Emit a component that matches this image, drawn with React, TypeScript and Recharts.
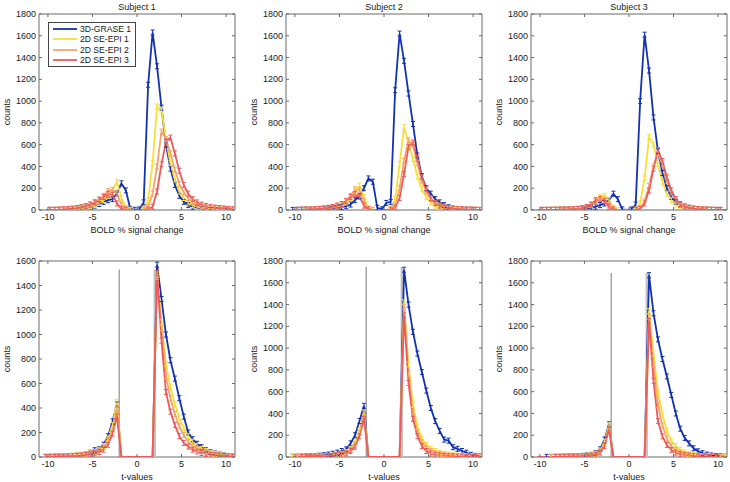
import { LineChart, Line, XAxis, YAxis, ReferenceLine, ReferenceArea, Legend } from "recharts"

// bin centres shared by every histogram
const X = [-10.25, -9.75, -9.25, -8.75, -8.25, -7.75, -7.25, -6.75, -6.25, -5.75, -5.25, -4.75, -4.25, -3.75, -3.25, -2.75, -2.25, -1.75, -1.25, -0.75, -0.25, 0.25, 0.75, 1.25, 1.75, 2.25, 2.75, 3.25, 3.75, 4.25, 4.75, 5.25, 5.75, 6.25, 6.75, 7.25, 7.75, 8.25, 8.75, 9.25, 9.75, 10.25, 10.75]

const SERIES = [
  { key: "g", name: "3D-GRASE 1", color: "#1232B2" },
  { key: "e1", name: "2D SE-EPI 1", color: "#F7E03A" },
  { key: "e2", name: "2D SE-EPI 2", color: "#F5A46C" },
  { key: "e3", name: "2D SE-EPI 3", color: "#EC5A5C" },
]

const X_TICKS = [-10, -5, 0, 5, 10]
const Y_TICKS_1800 = [0, 200, 400, 600, 800, 1000, 1200, 1400, 1600, 1800]
const Y_TICKS_1600 = [0, 200, 400, 600, 800, 1000, 1200, 1400, 1600]

// BOLD % signal change histograms
const bold1Grase = [0, 1, 1, 2, 3, 5, 7, 10, 15, 22, 30, 40, 55, 75, 90, 100, 150, 245, 180, 10, 2, 5, 70, 1150, 1630, 1320, 940, 600, 380, 230, 130, 75, 45, 30, 20, 12, 8, 5, 3, 2, 1, 1, 0]
const bold1Epi1 = [0, 1, 1, 2, 3, 5, 7, 10, 15, 22, 32, 45, 65, 90, 130, 180, 260, 110, 20, 3, 0, 0, 10, 90, 430, 950, 920, 650, 430, 280, 170, 110, 70, 45, 30, 20, 13, 9, 6, 4, 3, 2, 1]
const bold1Epi2 = [0, 1, 2, 3, 5, 8, 12, 18, 25, 35, 50, 70, 95, 130, 175, 185, 150, 50, 10, 2, 0, 0, 5, 30, 150, 400, 720, 650, 520, 370, 240, 160, 110, 75, 55, 40, 30, 22, 17, 13, 10, 8, 5]
const bold1Epi3 = [0, 1, 2, 3, 5, 8, 12, 18, 25, 35, 50, 70, 95, 120, 150, 140, 60, 10, 2, 0, 0, 0, 0, 5, 30, 170, 420, 630, 665, 520, 360, 230, 150, 100, 70, 50, 38, 28, 22, 18, 14, 10, 6]

const bold2Grase = [1, 2, 3, 4, 5, 6, 8, 10, 12, 15, 20, 25, 35, 50, 90, 130, 200, 290, 260, 20, 5, 65, 75, 1100, 1620, 1370, 1070, 790, 500, 310, 200, 150, 100, 70, 45, 25, 12, 8, 5, 3, 2, 1, 0]
const bold2Epi1 = [0, 1, 2, 3, 4, 5, 8, 12, 17, 25, 35, 50, 70, 110, 170, 225, 120, 20, 3, 0, 0, 0, 10, 100, 420, 760, 620, 470, 310, 190, 120, 70, 40, 25, 15, 10, 7, 5, 3, 2, 1, 1, 0]
const bold2Epi2 = [0, 1, 2, 3, 5, 7, 10, 14, 20, 28, 40, 55, 85, 130, 190, 180, 80, 10, 2, 0, 0, 0, 5, 40, 200, 450, 640, 600, 430, 270, 170, 100, 60, 40, 25, 17, 12, 9, 6, 4, 3, 2, 1]
const bold2Epi3 = [0, 1, 2, 3, 5, 7, 10, 14, 20, 28, 40, 55, 80, 120, 145, 120, 40, 5, 0, 0, 0, 0, 3, 20, 110, 330, 580, 620, 470, 300, 190, 110, 65, 40, 25, 17, 12, 8, 6, 4, 3, 2, 1]

const bold3Grase = [0, 1, 1, 2, 2, 3, 4, 5, 7, 10, 12, 15, 20, 30, 45, 60, 90, 150, 100, 5, 0, 5, 50, 1000, 1610, 1280, 850, 540, 340, 200, 120, 75, 45, 30, 20, 12, 8, 5, 3, 2, 1, 1, 0]
const bold3Epi1 = [0, 1, 1, 2, 2, 3, 4, 5, 7, 10, 15, 25, 45, 80, 120, 130, 90, 20, 2, 0, 0, 0, 5, 60, 290, 670, 600, 420, 260, 150, 90, 55, 35, 22, 14, 9, 6, 4, 3, 2, 1, 0, 0]
const bold3Epi2 = [0, 1, 1, 2, 2, 3, 4, 5, 7, 10, 15, 25, 45, 80, 105, 95, 45, 8, 0, 0, 0, 0, 2, 15, 80, 220, 400, 520, 420, 270, 160, 90, 50, 30, 18, 11, 7, 5, 3, 2, 1, 1, 0]
const bold3Epi3 = [0, 1, 1, 1, 2, 3, 4, 5, 7, 10, 16, 28, 50, 90, 100, 80, 30, 5, 0, 0, 0, 0, 2, 10, 60, 180, 380, 550, 450, 300, 180, 100, 55, 32, 20, 12, 8, 5, 3, 2, 1, 1, 0]

// t-value histograms (thresholded at |t| = 2)
const t1Grase = [1, 1, 2, 3, 4, 5, 7, 10, 14, 22, 35, 55, 65, 100, 170, 290, 430, 0, 0, 0, 0, 0, 0, 0, 0, 1570, 1290, 1000, 790, 640, 480, 330, 200, 145, 108, 80, 55, 40, 28, 20, 14, 8, 4]
const t1Epi1 = [1, 2, 3, 4, 6, 8, 10, 13, 17, 22, 30, 40, 60, 90, 150, 260, 450, 0, 0, 0, 0, 0, 0, 0, 0, 1490, 1100, 760, 570, 430, 320, 235, 170, 125, 90, 65, 48, 35, 25, 18, 12, 8, 4]
const t1Epi2 = [1, 2, 3, 4, 5, 7, 9, 12, 16, 22, 30, 40, 55, 80, 130, 220, 390, 0, 0, 0, 0, 0, 0, 0, 0, 1470, 1050, 660, 480, 350, 250, 180, 125, 90, 65, 48, 35, 26, 19, 14, 10, 7, 4]
const t1Epi3 = [1, 1, 2, 3, 4, 5, 7, 9, 12, 16, 22, 30, 40, 60, 100, 190, 330, 0, 0, 0, 0, 0, 0, 0, 0, 1500, 950, 530, 370, 260, 170, 115, 85, 60, 45, 33, 25, 18, 13, 10, 7, 5, 3]

const t2Grase = [2, 3, 4, 5, 7, 9, 12, 16, 22, 30, 40, 55, 70, 125, 200, 330, 470, 0, 0, 0, 0, 0, 0, 0, 0, 1720, 1400, 1150, 950, 780, 610, 450, 330, 240, 160, 150, 90, 75, 55, 40, 20, 10, 5]
const t2Epi1 = [1, 1, 2, 2, 3, 4, 5, 7, 10, 14, 20, 30, 45, 75, 130, 240, 410, 0, 0, 0, 0, 0, 0, 0, 0, 1420, 850, 480, 280, 170, 110, 75, 55, 40, 30, 22, 16, 12, 9, 6, 4, 3, 2]
const t2Epi2 = [0, 1, 1, 2, 3, 4, 5, 6, 9, 12, 18, 26, 40, 65, 115, 220, 400, 0, 0, 0, 0, 0, 0, 0, 0, 1380, 760, 410, 230, 135, 85, 55, 38, 27, 20, 14, 10, 7, 5, 4, 3, 2, 1]
const t2Epi3 = [0, 0, 1, 1, 2, 3, 4, 5, 7, 10, 14, 20, 32, 55, 95, 190, 350, 0, 0, 0, 0, 0, 0, 0, 0, 1300, 680, 350, 190, 100, 55, 32, 20, 14, 10, 7, 5, 4, 3, 2, 1, 1, 0]

const t3Grase = [0, 0, 1, 1, 2, 2, 3, 4, 5, 7, 10, 14, 20, 35, 70, 160, 300, 0, 0, 0, 0, 0, 0, 0, 0, 1670, 1320, 1080, 900, 740, 570, 400, 260, 175, 125, 80, 52, 35, 22, 14, 9, 6, 3]
const t3Epi1 = [0, 0, 0, 1, 1, 2, 2, 3, 4, 6, 8, 12, 18, 30, 60, 140, 290, 0, 0, 0, 0, 0, 0, 0, 0, 1340, 950, 600, 390, 240, 150, 100, 65, 42, 28, 18, 12, 8, 5, 3, 2, 1, 1]
const t3Epi2 = [0, 0, 0, 1, 1, 1, 2, 3, 4, 5, 7, 10, 15, 25, 50, 120, 270, 0, 0, 0, 0, 0, 0, 0, 0, 1290, 850, 480, 290, 170, 100, 62, 40, 26, 17, 11, 8, 5, 3, 2, 1, 1, 0]
const t3Epi3 = [0, 0, 0, 0, 1, 1, 2, 2, 3, 4, 6, 8, 12, 20, 40, 100, 250, 0, 0, 0, 0, 0, 0, 0, 0, 1250, 700, 330, 190, 110, 65, 40, 26, 17, 11, 7, 5, 3, 2, 1, 1, 0, 0]

// threshold markers in the t-value plots
const T_THRESH = [-2, 2]
const T_MARK_TOP = [1530, 1745, 1690]

const FONT = '"Liberation Sans", Arial, Helvetica, sans-serif'
const INK = "#1a1a1a"
const BOX = "#6a6a6a"
const FS = 9
const PW = 196
const PH = 196
const YW = 40
const XH = 30
const MT = 4
const MR = 4
const COL_LEFT = [39, 286, 531]
const ROW_TOP = [14, 261]

const PANELS = [
  { col: 0, row: 0, title: "Subject 1", xLabel: "BOLD % signal change", yMax: 1800, yTicks: Y_TICKS_1800, vals: [bold1Grase, bold1Epi1, bold1Epi2, bold1Epi3], legend: true },
  { col: 1, row: 0, title: "Subject 2", xLabel: "BOLD % signal change", yMax: 1800, yTicks: Y_TICKS_1800, vals: [bold2Grase, bold2Epi1, bold2Epi2, bold2Epi3] },
  { col: 2, row: 0, title: "Subject 3", xLabel: "BOLD % signal change", yMax: 1800, yTicks: Y_TICKS_1800, vals: [bold3Grase, bold3Epi1, bold3Epi2, bold3Epi3] },
  { col: 0, row: 1, xLabel: "t-values", yMax: 1600, yTicks: Y_TICKS_1600, vals: [t1Grase, t1Epi1, t1Epi2, t1Epi3], mark: T_MARK_TOP[0] },
  { col: 1, row: 1, xLabel: "t-values", yMax: 1800, yTicks: Y_TICKS_1800, vals: [t2Grase, t2Epi1, t2Epi2, t2Epi3], mark: T_MARK_TOP[1] },
  { col: 2, row: 1, xLabel: "t-values", yMax: 1800, yTicks: Y_TICKS_1800, vals: [t3Grase, t3Epi1, t3Epi2, t3Epi3], mark: T_MARK_TOP[2] },
]

// error-bar style marker (caps + stem)
function ErrDot(props: any) {
  const { cx, cy, stroke, value } = props
  if (cx == null || cy == null || !value) return <g />
  const h = 2.5
  const w = 2
  return (
    <path
      d={`M${cx - w},${cy - h}h${2 * w}M${cx},${cy - h}v${2 * h}M${cx - w},${cy + h}h${2 * w}`}
      stroke={stroke}
      strokeWidth={1}
      fill="none"
    />
  )
}

// matlab-ish ticks: labels outside, marks pointing in, mirrored on the opposite side
function XTick({ x, y, payload }: any) {
  return (
    <g>
      <line x1={x} x2={x} y1={y} y2={y - 3} stroke={BOX} />
      <line x1={x} x2={x} y1={y - PH} y2={y - PH + 3} stroke={BOX} />
      <text x={x} y={y + 7} dy="0.35em" textAnchor="middle" fontSize={FS} fill={INK} fontFamily={FONT}>
        {payload.value}
      </text>
    </g>
  )
}

function YTick({ x, y, payload }: any) {
  return (
    <g>
      <line x1={x} x2={x + 3} y1={y} y2={y} stroke={BOX} />
      <line x1={x + PW - 3} x2={x + PW} y1={y} y2={y} stroke={BOX} />
      <text x={x - 3} y={y} dy="0.35em" textAnchor="end" fontSize={FS} fill={INK} fontFamily={FONT}>
        {payload.value}
      </text>
    </g>
  )
}

const renderLegend = () => (
  <div
    style={{
      border: "1px solid #444",
      background: "#fff",
      padding: "1px 4px",
      fontFamily: FONT,
      fontSize: 8.6,
      lineHeight: "10.3px",
      color: INK,
      whiteSpace: "nowrap",
    }}
  >
    {SERIES.map((s) => (
      <div key={s.key} style={{ display: "flex", alignItems: "center" }}>
        <svg width={25} height={10}>
          <line x1={0} x2={24} y1={5} y2={5} stroke={s.color} strokeWidth={1.8} />
        </svg>
        <span style={{ marginLeft: 2 }}>{s.name}</span>
      </div>
    ))}
  </div>
)

function Panel(p: any) {
  const plotLeft = COL_LEFT[p.col]
  const plotTop = ROW_TOP[p.row]
  const chartLeft = plotLeft - YW
  const chartTop = plotTop - MT
  const rows = X.map((x, i) => {
    const r: any = { x }
    SERIES.forEach((s, j) => {
      r[s.key] = p.vals[j][i]
    })
    return r
  })

  return (
    <>
      {p.title && (
        <div
          style={{
            position: "absolute",
            left: plotLeft,
            width: PW,
            top: plotTop - 13,
            height: 12,
            lineHeight: "12px",
            textAlign: "center",
            fontFamily: FONT,
            fontSize: FS,
            color: INK,
          }}
        >
          {p.title}
        </div>
      )}
      <div style={{ position: "absolute", left: chartLeft, top: chartTop }}>
        <LineChart
          width={YW + PW + MR}
          height={MT + PH + XH}
          data={rows}
          margin={{ top: MT, right: MR, bottom: 0, left: 0 }}
        >
          <XAxis
            dataKey="x"
            type="number"
            domain={[-11, 11]}
            ticks={X_TICKS}
            interval={0}
            allowDataOverflow
            height={XH}
            tickSize={0}
            tickMargin={0}
            axisLine={false}
            tickLine={false}
            tick={<XTick />}
            label={(lp: any) => {
              const vb = lp.viewBox || {}
              return (
                <text
                  x={vb.x + vb.width / 2}
                  y={vb.y + 20}
                  dy="0.35em"
                  textAnchor="middle"
                  fontSize={FS}
                  fill={INK}
                  fontFamily={FONT}
                >
                  {p.xLabel}
                </text>
              )
            }}
          />
          <YAxis
            type="number"
            domain={[0, p.yMax]}
            ticks={p.yTicks}
            interval={0}
            allowDataOverflow
            width={YW}
            tickSize={0}
            tickMargin={0}
            axisLine={false}
            tickLine={false}
            tick={<YTick />}
            label={(lp: any) => {
              const vb = lp.viewBox || {}
              const cx = vb.x + vb.width - 32
              const cy = vb.y + vb.height / 2
              return (
                <text
                  x={cx}
                  y={cy}
                  dy="0.35em"
                  textAnchor="middle"
                  transform={`rotate(-90 ${cx} ${cy})`}
                  fontSize={FS}
                  fill={INK}
                  fontFamily={FONT}
                >
                  counts
                </text>
              )
            }}
          />
          <ReferenceArea x1={-11} x2={11} y1={0} y2={p.yMax} fill="none" stroke={BOX} strokeWidth={1} />
          {p.mark && (
            <ReferenceLine
              segment={[{ x: T_THRESH[1], y: 0 }, { x: T_THRESH[1], y: p.mark }]}
              stroke="#c4c4c4"
              strokeWidth={2.5}
            />
          )}
          {p.mark && (
            <ReferenceLine
              segment={[{ x: T_THRESH[0], y: 0 }, { x: T_THRESH[0], y: p.mark }]}
              stroke="#7a7a7a"
              strokeWidth={1}
            />
          )}
          {SERIES.map((s) => (
            <Line
              key={s.key}
              type="linear"
              dataKey={s.key}
              name={s.name}
              stroke={s.color}
              strokeWidth={1.8}
              dot={<ErrDot />}
              activeDot={false}
              isAnimationActive={false}
            />
          ))}
          {p.legend && (
            <Legend
              layout="vertical"
              align="center"
              verticalAlign="middle"
              content={renderLegend}
              wrapperStyle={{ left: 48 - chartLeft, top: 22 - chartTop, width: "auto", height: "auto" }}
            />
          )}
        </LineChart>
      </div>
    </>
  )
}

export default function App() {
  return (
    <div style={{ position: "absolute", left: 0, top: 0, width: 730, height: 482, background: "#fff" }}>
      {PANELS.map((p, i) => (
        <Panel key={i} {...p} />
      ))}
    </div>
  )
}
